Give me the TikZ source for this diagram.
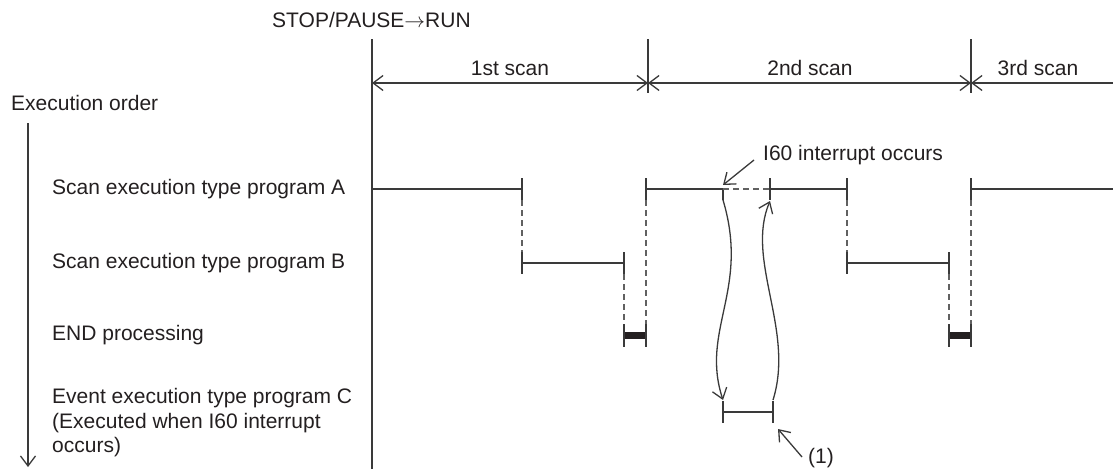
\documentclass[tikz,border=0pt]{standalone}
\usepackage{fontspec}
\setmainfont{Liberation Sans}
\usetikzlibrary{arrows.meta}
\definecolor{ink}{HTML}{3A3A3A}
\definecolor{txt}{HTML}{231F20}
\tikzset{
  lbl/.style={font=\fontsize{21}{24.5}\selectfont, text=txt, inner sep=0pt},
  ln/.style={draw=ink, line width=1.3pt},
  dsh/.style={draw=ink!80, line width=1.5pt, dash pattern=on 6pt off 4pt},
  endbar/.style={draw=txt, line width=7pt},
  barb/.style={-{Straight Barb[length=10pt,width=15pt,line width=1.3pt]}},
  dim/.style={ln, {Straight Barb[length=10pt,width=15pt,line width=1.3pt]}-{Straight Barb[length=10pt,width=15pt,line width=1.3pt]}},
}
\begin{document}
\begin{tikzpicture}[x=1pt,y=-1pt]
\useasboundingbox (0,0) rectangle (1113,469);

\node[lbl, anchor=west] (trig) at (272,20) {STOP/PAUSE$\rightarrow$RUN};
\node[lbl, anchor=west] (order) at (11,103) {Execution order};
\node[lbl, anchor=west] (progA) at (52,189) {Scan execution type program A};
\node[lbl, anchor=west] (progB) at (52,263) {Scan execution type program B};
\node[lbl, anchor=west] (endp) at (52,335) {END processing};
\node[lbl, anchor=west, align=left] (progC) at (52,423) {Event execution type program C\\(Executed when I60 interrupt\\occurs)};
\node[lbl] (scan1) at (510,68) {1st scan};
\node[lbl] (scan2) at (810,68) {2nd scan};
\node[lbl] (scan3) at (1038,68) {3rd scan};
\node[lbl, anchor=west] (intr) at (763,155) {I60 interrupt occurs};
\node[lbl, anchor=west] (one) at (808,458) {(1)};

% time axis
\coordinate (t0) at (372,83);
\coordinate (t1) at (648,83);
\coordinate (t2) at (971,83);
\coordinate (t3) at (1113,83);
\draw[ln] (372,39) -- (372,469);
\draw[ln] (648,39) -- (648,93);
\draw[ln] (971,39) -- (971,93);
\draw[dim] (t0) -- (t1);
\draw[dim] (t1) -- (t2);
\draw[ln, {Straight Barb[length=10pt,width=15pt,line width=1.3pt]}-] (t2) -- (t3);

% execution order
\draw[ln, barb] (28,123) -- (28,467);

% program A
\draw[ln] (372,189) -- (522,189);
\draw[ln] (646,189) -- (723,189) -- (723,200);
\draw[dsh, line width=1.3pt] (723,189) -- (770,189);
\draw[ln] (770,189) -- (847,189);
\draw[ln] (971,189) -- (1113,189);
\foreach \x in {522,646,770,847,971}
  \draw[ln] (\x,178) -- (\x,200);

% program B
\draw[ln] (522,263) -- (624,263);
\draw[ln] (847,263) -- (949,263);
\foreach \x in {522,624,847,949}
  \draw[ln] (\x,252) -- (\x,274);

% END processing
\draw[endbar] (624,335) -- (646,335);
\draw[endbar] (949,335) -- (971,335);
\foreach \x in {624,646,949,971}
  \draw[ln] (\x,324) -- (\x,347);

% transitions
\draw[dsh] (522,200) -- (522,252);
\draw[dsh] (624,274) -- (624,324);
\draw[dsh] (646,200) -- (646,324);
\draw[dsh] (847,200) -- (847,252);
\draw[dsh] (949,274) -- (949,324);
\draw[dsh] (971,200) -- (971,324);

% program C
\draw[ln] (723,412) -- (773,412);
\foreach \x in {723,773}
  \draw[ln] (\x,401) -- (\x,423);
\draw[ln, barb] (723,200) .. controls (750,290) and (700,330) .. (723,400);
\draw[ln, barb] (773,400) .. controls (795,330) and (745,260) .. (770,201);

% leaders
\coordinate (intrpt) at (723,185);
\coordinate (cpt) at (778,429);
\draw[ln, barb] (754,160) -- (intrpt);
\draw[ln, barb] (802,457) -- (cpt);
\end{tikzpicture}
\end{document}
